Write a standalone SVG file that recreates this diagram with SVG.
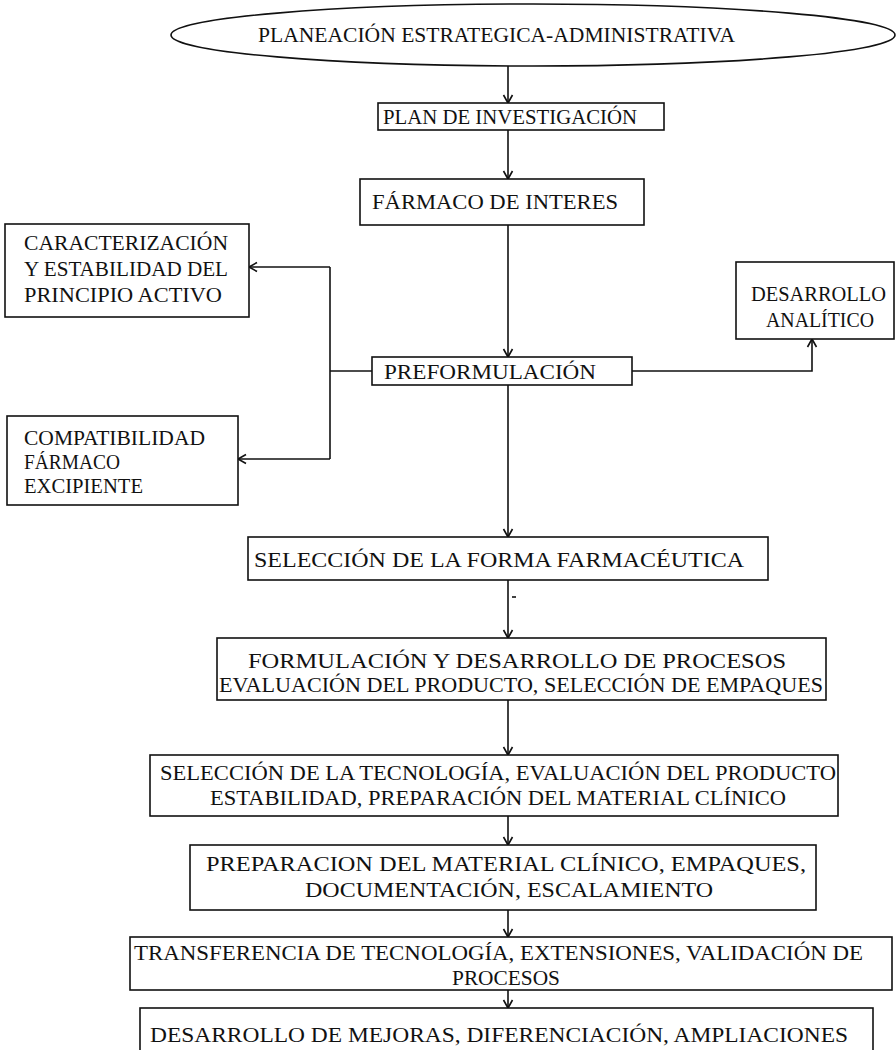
<svg xmlns="http://www.w3.org/2000/svg" width="896" height="1050" viewBox="0 0 896 1050">
<style>
.b{fill:#fff;stroke:#111;stroke-width:1.6}
.t{font-family:"Liberation Serif","Times New Roman",serif;font-size:21px;fill:#111}
.c{fill:none;stroke:#111;stroke-width:1.6}
</style>
<defs>
<marker id="ah" markerUnits="userSpaceOnUse" markerWidth="12" markerHeight="12" refX="0" refY="0" orient="auto" overflow="visible">
<path d="M-8,-4.5 L0,0 L-8,4.5" fill="none" stroke="#111" stroke-width="1.6"/>
</marker>
</defs>
<rect width="896" height="1050" fill="#fff"/>
<g id="connectors">
<path class="c" d="M508,66 V103" marker-end="url(#ah)"/>
<path class="c" d="M508,130 V179" marker-end="url(#ah)"/>
<path class="c" d="M508,225 V357" marker-end="url(#ah)"/>
<path class="c" d="M372,371 H330"/>
<path class="c" d="M330,267 V459"/>
<path class="c" d="M330,267 H249" marker-end="url(#ah)"/>
<path class="c" d="M330,459 H238" marker-end="url(#ah)"/>
<path class="c" d="M632,371 H812 V339" marker-end="url(#ah)"/>
<path class="c" d="M508,385 V537" marker-end="url(#ah)"/>
<path class="c" d="M508,580 V638" marker-end="url(#ah)"/>
<path class="c" d="M512,597 H516"/>
<path class="c" d="M508,700 V755" marker-end="url(#ah)"/>
<path class="c" d="M508,816 V845" marker-end="url(#ah)"/>
<path class="c" d="M508,910 V937" marker-end="url(#ah)"/>
<path class="c" d="M508,990 V1008" marker-end="url(#ah)"/>
</g>
<g id="n-planeacion">
<ellipse class="b" cx="533" cy="35" rx="362" ry="31"/>
<text class="t" x="258" y="42" textLength="477" lengthAdjust="spacingAndGlyphs">PLANEACIÓN ESTRATEGICA-ADMINISTRATIVA</text>
</g>
<g id="n-plan">
<rect class="b" x="378" y="103" width="286" height="27"/>
<text class="t" x="383" y="124" textLength="254" lengthAdjust="spacingAndGlyphs">PLAN DE INVESTIGACIÓN</text>
</g>
<g id="n-farmaco">
<rect class="b" x="360" y="179" width="284" height="46"/>
<text class="t" x="372" y="209" textLength="246" lengthAdjust="spacingAndGlyphs">FÁRMACO DE INTERES</text>
</g>
<g id="n-preformulacion">
<rect class="b" x="372" y="357" width="260" height="28"/>
<text class="t" x="384" y="379" textLength="212" lengthAdjust="spacingAndGlyphs">PREFORMULACIÓN</text>
</g>
<g id="n-caracterizacion">
<rect class="b" x="5" y="224" width="244" height="93"/>
<text class="t" x="24" y="250" textLength="204" lengthAdjust="spacingAndGlyphs">CARACTERIZACIÓN</text>
<text class="t" x="24" y="276" textLength="204" lengthAdjust="spacingAndGlyphs">Y ESTABILIDAD DEL</text>
<text class="t" x="24" y="302" textLength="198" lengthAdjust="spacingAndGlyphs">PRINCIPIO ACTIVO</text>
</g>
<g id="n-compatibilidad">
<rect class="b" x="7" y="416" width="231" height="89"/>
<text class="t" x="24" y="445" textLength="181" lengthAdjust="spacingAndGlyphs">COMPATIBILIDAD</text>
<text class="t" x="24" y="469" textLength="96" lengthAdjust="spacingAndGlyphs">FÁRMACO</text>
<text class="t" x="24" y="493" textLength="119" lengthAdjust="spacingAndGlyphs">EXCIPIENTE</text>
</g>
<g id="n-analitico">
<rect class="b" x="736" y="262" width="158" height="77"/>
<text class="t" x="751" y="301" textLength="135" lengthAdjust="spacingAndGlyphs">DESARROLLO</text>
<text class="t" x="766" y="327" textLength="108" lengthAdjust="spacingAndGlyphs">ANALÍTICO</text>
</g>
<g id="n-seleccion-forma">
<rect class="b" x="248" y="537" width="520" height="43"/>
<text class="t" x="254" y="567" textLength="490" lengthAdjust="spacingAndGlyphs">SELECCIÓN DE LA FORMA FARMACÉUTICA</text>
</g>
<g id="n-formulacion">
<rect class="b" x="217" y="638" width="609" height="62"/>
<text class="t" x="248" y="668" textLength="538" lengthAdjust="spacingAndGlyphs">FORMULACIÓN Y DESARROLLO DE PROCESOS</text>
<text class="t" x="219" y="692" textLength="604" lengthAdjust="spacingAndGlyphs">EVALUACIÓN DEL PRODUCTO, SELECCIÓN DE EMPAQUES</text>
</g>
<g id="n-tecnologia">
<rect class="b" x="150" y="755" width="688" height="61"/>
<text class="t" x="160" y="780" textLength="676" lengthAdjust="spacingAndGlyphs">SELECCIÓN DE LA TECNOLOGÍA, EVALUACIÓN DEL PRODUCTO</text>
<text class="t" x="210" y="805" textLength="576" lengthAdjust="spacingAndGlyphs">ESTABILIDAD, PREPARACIÓN DEL MATERIAL CLÍNICO</text>
</g>
<g id="n-preparacion">
<rect class="b" x="190" y="845" width="626" height="65"/>
<text class="t" x="206" y="871" textLength="600" lengthAdjust="spacingAndGlyphs">PREPARACION DEL MATERIAL CLÍNICO, EMPAQUES,</text>
<text class="t" x="305" y="897" textLength="408" lengthAdjust="spacingAndGlyphs">DOCUMENTACIÓN, ESCALAMIENTO</text>
</g>
<g id="n-transferencia">
<rect class="b" x="130" y="937" width="762" height="53"/>
<text class="t" x="134" y="960" textLength="729" lengthAdjust="spacingAndGlyphs">TRANSFERENCIA DE TECNOLOGÍA, EXTENSIONES, VALIDACIÓN DE</text>
<text class="t" x="452" y="985" textLength="108" lengthAdjust="spacingAndGlyphs">PROCESOS</text>
</g>
<g id="n-mejoras">
<rect class="b" x="140" y="1008" width="733" height="50"/>
<text class="t" x="150" y="1042" textLength="698" lengthAdjust="spacingAndGlyphs">DESARROLLO DE MEJORAS, DIFERENCIACIÓN, AMPLIACIONES</text>
</g>
</svg>
